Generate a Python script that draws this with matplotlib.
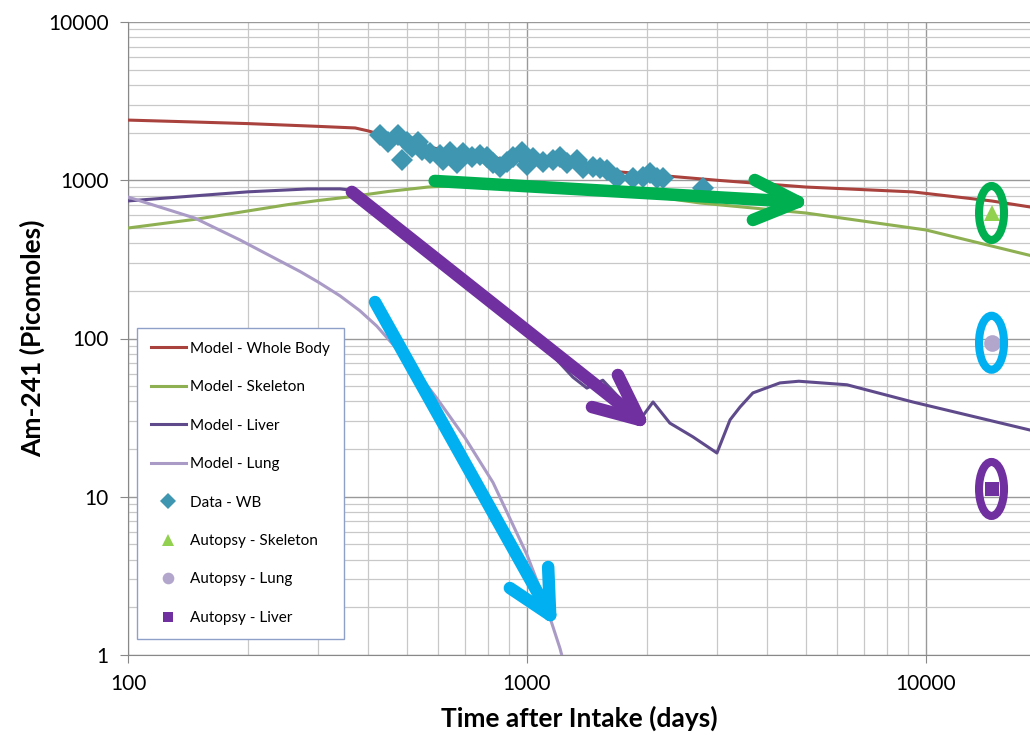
import numpy as np
import matplotlib
matplotlib.use("Agg")
import matplotlib.pyplot as plt
from matplotlib.lines import Line2D
from matplotlib.patches import Ellipse
from matplotlib.transforms import ScaledTranslation
from matplotlib.ticker import LogLocator, NullFormatter

# Model - Whole Body
wb_t = [100, 150, 200, 250, 300, 371, 400, 450, 500, 565, 700, 855, 1000, 1300, 1700, 2000, 2993, 5000, 9270, 14600, 18230]
wb_v = [2400, 2330, 2280, 2230, 2190, 2140, 2050, 1880, 1740, 1620, 1480, 1370, 1320, 1230, 1130, 1090, 1000, 906, 844, 740, 678]

# Model - Skeleton
sk_t = [100, 150, 200, 250, 300, 356, 450, 565, 700, 1000, 1500, 2000, 2716, 5000, 10000, 18230]
sk_v = [499, 570, 640, 700, 745, 783, 850, 906, 930, 935, 870, 800, 718, 621, 485, 335]

# Model - Liver
lv_t = [100, 150, 200, 282, 340, 370, 400, 450, 500, 561, 700, 800, 1000, 1150, 1303, 1413, 1549, 1919, 2070,
        2281, 2606, 2993, 3228, 3420, 3683, 4305, 4800, 6340, 9270, 18230]
lv_v = [740, 800, 845, 881, 882, 860, 740, 580, 465, 378, 235, 175, 108, 80, 57, 48.6, 54.5, 30.6, 39.7,
        29.2, 23.9, 18.9, 30.6, 36.9, 45.3, 52.4, 53.7, 51, 39.7, 26.4]

# Model - Lung
lu_t = [100, 147, 191, 270, 300, 340, 381, 420, 461, 520, 594, 700, 822, 1000, 1100, 1210, 1300]
lu_v = [783, 577, 419, 265, 227, 186, 150, 120, 92, 65, 42, 23.5, 12.3, 4.3, 2.3, 1.1, 0.55]

# Data - WB
data_t = [428, 448, 475, 486, 500, 515, 533, 546, 571, 605, 616, 641, 668, 691, 728, 762, 794, 822, 855, 891,
          922, 972, 1000, 1035, 1097, 1162, 1210, 1260, 1335, 1381, 1464, 1524, 1587, 1681, 1844, 1953, 2033,
          2118, 2193, 2761]
data_v = [1932, 1745, 1932, 1343, 1745, 1622, 1745, 1553, 1486, 1444, 1343, 1508, 1285, 1486, 1403, 1444, 1403,
          1285, 1213, 1304, 1403, 1508, 1248, 1382, 1304, 1343, 1403, 1285, 1343, 1195, 1213, 1195, 1161, 1033,
          1033, 1049, 1111, 1033, 1033, 893]

# Autopsy values
aut_t = 14600
aut_skel = 621
aut_lung = 94
aut_liver = 11.2

plt.rcParams['font.family'] = ['Lato', 'DejaVu Sans']

fig = plt.figure(figsize=(10.3, 7.35), dpi=100)
ax = fig.add_axes([128 / 1030, 80 / 735, 902 / 1030, 633 / 735])
ax.set_xscale('log')
ax.set_yscale('log')
ax.set_xlim(100, 18230)
ax.set_ylim(1, 10000)

ax.plot(wb_t, wb_v, color='#a9413d', lw=2.2, label='Model - Whole Body', zorder=3)
ax.plot(sk_t, sk_v, color='#8eb052', lw=2.2, label='Model - Skeleton', zorder=3)
ax.plot(lv_t, lv_v, color='#5f4b8b', lw=2.2, label='Model - Liver', zorder=3)
ax.plot(lu_t, lu_v, color='#a99bc6', lw=2.2, label='Model - Lung', zorder=3)
ax.plot(data_t, data_v, 'D', color='#3e96b0', ms=11, mew=0, label='Data - WB', zorder=4)
ax.plot([aut_t], [aut_skel], '^', color='#92d050', ms=12, mew=0, label='Autopsy - Skeleton', zorder=4)
ax.plot([aut_t], [aut_lung], 'o', color='#b3a6cc', ms=12, mew=0, label='Autopsy - Lung', zorder=4)
ax.plot([aut_t], [aut_liver], 's', color='#7030a0', ms=10, mew=0, label='Autopsy - Liver', zorder=4)

# grid
ax.xaxis.set_major_locator(LogLocator(base=10, numticks=10))
ax.yaxis.set_major_locator(LogLocator(base=10, numticks=10))
ax.xaxis.set_minor_locator(LogLocator(base=10, subs=np.arange(2, 10), numticks=20))
ax.yaxis.set_minor_locator(LogLocator(base=10, subs=np.arange(2, 10), numticks=20))
ax.xaxis.set_minor_formatter(NullFormatter())
ax.yaxis.set_minor_formatter(NullFormatter())
ax.xaxis.set_major_formatter(plt.FuncFormatter(lambda v, p: f"{v:.0f}"))
ax.yaxis.set_major_formatter(plt.FuncFormatter(lambda v, p: f"{v:.0f}"))
ax.grid(True, which='major', color='#999999', lw=1.0, zorder=0)
ax.grid(True, which='minor', color='#c8c8c8', lw=0.9, zorder=0)
ax.set_axisbelow(True)
ax.tick_params(which='major', direction='out', length=6, color='#888888', labelsize=15, pad=8)
ax.tick_params(which='minor', length=0)
for s in ['top', 'right']:
    ax.spines[s].set_visible(False)
for s in ['left', 'bottom']:
    ax.spines[s].set_color('#888888')

ax.set_xlabel('Time after Intake (days)', fontsize=19, fontweight='bold', labelpad=8)
ax.set_ylabel('Am-241 (Picomoles)', fontsize=19, fontweight='bold', labelpad=2)

leg = ax.legend(loc='upper left', bbox_to_anchor=(137 / 1030, 1 - 328 / 735), bbox_transform=fig.transFigure,
                borderaxespad=0, fontsize=11, labelspacing=1.6, handlelength=2.3, handletextpad=0.3,
                borderpad=0.9, fancybox=False, framealpha=1, numpoints=1, markerscale=0.7)
leg.get_frame().set_edgecolor('#8fa0c8')
leg.get_frame().set_linewidth(1.0)


# hand drawn annotations: arrows (data coords) and ellipses round the autopsy points
def draw_arrow(start, tip, arm1, arm2, color):
    for a, b in [(start, tip), (arm1, tip), (arm2, tip)]:
        ax.add_line(Line2D([a[0], b[0]], [a[1], b[1]], color=color, lw=9, solid_capstyle='round',
                           solid_joinstyle='round', zorder=6))


draw_arrow((587, 990), (4775, 730), (3723, 1004), (3683, 561), '#00b050')
draw_arrow((364, 844), (1919, 30.6), (1690, 58.8), (1455, 36.9), '#7030a0')
draw_arrow((416, 170), (1143, 1.79), (1130, 3.6), (906, 2.65), '#00b0f0')

for val, col in [(aut_skel, '#00b050'), (aut_lung, '#00b0f0'), (aut_liver, '#7030a0')]:
    tr = fig.dpi_scale_trans + ScaledTranslation(aut_t, val, ax.transData)
    ax.add_patch(Ellipse((0, 0), 0.25, 0.54, transform=tr, fill=False, edgecolor=col, lw=5.8,
                         zorder=6, clip_on=False))

fig.savefig('out.png', dpi=100)
